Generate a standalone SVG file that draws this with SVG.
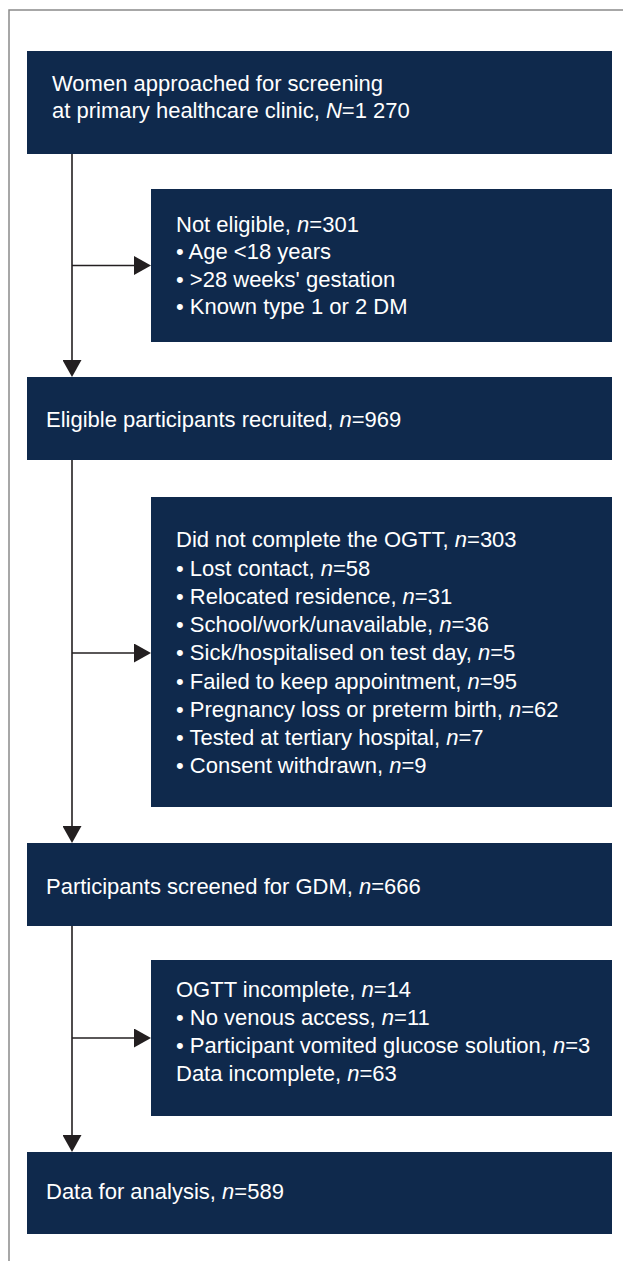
<svg xmlns="http://www.w3.org/2000/svg" width="623" height="1261" viewBox="0 0 623 1261">
  <style>
    .box { fill: #0f294c; }
    .t { font-family: "Liberation Sans", Arial, sans-serif; font-size: 22px; fill: #ffffff; }
    .i { font-style: italic; }
    .conn { fill: none; stroke: #231f20; stroke-width: 1.6; }
    .frame { fill: none; stroke: #8a8a8a; stroke-width: 1.5; }
  </style>
  <defs>
    <marker id="arrow" viewBox="0 0 17 19" refX="6" refY="9.5" markerWidth="17" markerHeight="19" markerUnits="userSpaceOnUse" orient="auto">
      <path d="M0,0 L17,9.5 L0,19 Z" fill="#231f20"/>
    </marker>
  </defs>
  <rect width="623" height="1261" fill="#ffffff"/>
  <path class="frame" d="M9,1261 V10 H623"/>

  <g id="connectors">
    <path class="conn" d="M72,154 V366" marker-end="url(#arrow)"/>
    <path class="conn" d="M72,265.5 H140" marker-end="url(#arrow)"/>
    <path class="conn" d="M72,460 V832" marker-end="url(#arrow)"/>
    <path class="conn" d="M72,653 H140" marker-end="url(#arrow)"/>
    <path class="conn" d="M72,926 V1141" marker-end="url(#arrow)"/>
    <path class="conn" d="M72,1038 H140" marker-end="url(#arrow)"/>
  </g>

  <g id="approached">
    <rect class="box" x="27" y="51" width="585" height="103"/>
    <text class="t" x="52" y="91">Women approached for screening</text>
    <text class="t" x="52" y="117.5">at primary healthcare clinic, <tspan class="i">N</tspan>=1 270</text>
  </g>

  <g id="not-eligible">
    <rect class="box" x="151" y="189" width="461" height="153"/>
    <text class="t" x="176" y="231.5">Not eligible, <tspan class="i">n</tspan>=301</text>
    <text class="t" x="176" y="259">• Age &lt;18 years</text>
    <text class="t" x="176" y="286.5">• &gt;28 weeks' gestation</text>
    <text class="t" x="176" y="314">• Known type 1 or 2 DM</text>
  </g>

  <g id="eligible">
    <rect class="box" x="27" y="377" width="585" height="83"/>
    <text class="t" x="46" y="427">Eligible participants recruited, <tspan class="i">n</tspan>=969</text>
  </g>

  <g id="not-complete">
    <rect class="box" x="151" y="497" width="461" height="310"/>
    <text class="t" x="176" y="547.3">Did not complete the OGTT, <tspan class="i">n</tspan>=303</text>
    <text class="t" x="176" y="575.5">• Lost contact, <tspan class="i">n</tspan>=58</text>
    <text class="t" x="176" y="603.8">• Relocated residence, <tspan class="i">n</tspan>=31</text>
    <text class="t" x="176" y="632">• School/work/unavailable, <tspan class="i">n</tspan>=36</text>
    <text class="t" x="176" y="660.3">• Sick/hospitalised on test day, <tspan class="i">n</tspan>=5</text>
    <text class="t" x="176" y="688.5">• Failed to keep appointment, <tspan class="i">n</tspan>=95</text>
    <text class="t" x="176" y="716.8">• Pregnancy loss or preterm birth, <tspan class="i">n</tspan>=62</text>
    <text class="t" x="176" y="745">• Tested at tertiary hospital, <tspan class="i">n</tspan>=7</text>
    <text class="t" x="176" y="773.3">• Consent withdrawn, <tspan class="i">n</tspan>=9</text>
  </g>

  <g id="screened">
    <rect class="box" x="27" y="843" width="585" height="83"/>
    <text class="t" x="46" y="894">Participants screened for GDM, <tspan class="i">n</tspan>=666</text>
  </g>

  <g id="incomplete">
    <rect class="box" x="151" y="960" width="461" height="156"/>
    <text class="t" x="176" y="996.7">OGTT incomplete, <tspan class="i">n</tspan>=14</text>
    <text class="t" x="176" y="1024.7">• No venous access, <tspan class="i">n</tspan>=11</text>
    <text class="t" x="176" y="1052.7">• Participant vomited glucose solution, <tspan class="i">n</tspan>=3</text>
    <text class="t" x="176" y="1080.7">Data incomplete, <tspan class="i">n</tspan>=63</text>
  </g>

  <g id="analysis">
    <rect class="box" x="27" y="1152" width="585" height="82"/>
    <text class="t" x="46" y="1199">Data for analysis, <tspan class="i">n</tspan>=589</text>
  </g>
</svg>
